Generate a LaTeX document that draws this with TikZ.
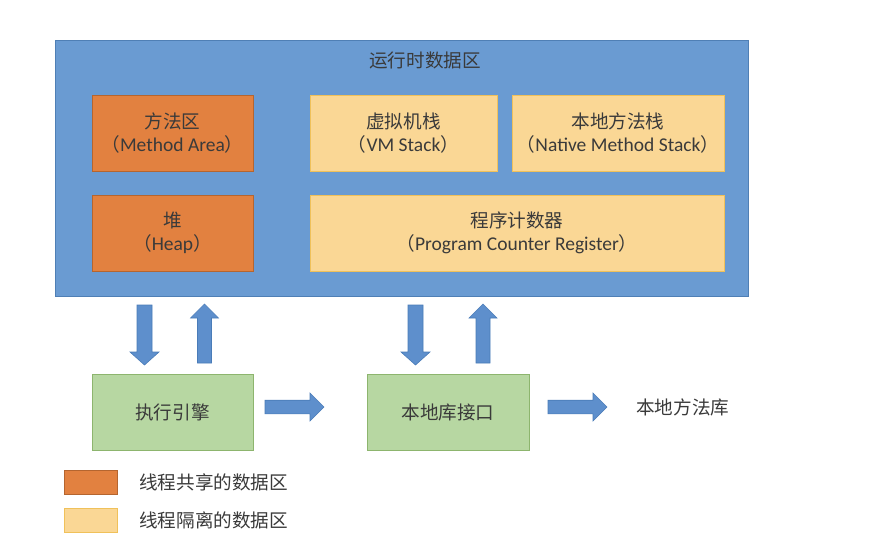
\documentclass[tikz,border=0pt]{standalone}
\usepackage{fontspec}
\setmainfont{Noto Sans CJK SC}
\newfontfamily\lat{Carlito}
\definecolor{bgblue}{HTML}{6A9BD2}
\definecolor{bgblueb}{HTML}{4F7FB5}
\definecolor{orfill}{HTML}{E28140}
\definecolor{ordraw}{HTML}{B5652F}
\definecolor{yefill}{HTML}{FAD795}
\definecolor{yedraw}{HTML}{F0C15A}
\definecolor{grfill}{HTML}{B7D7A2}
\definecolor{grdraw}{HTML}{8DB56E}
\definecolor{arfill}{HTML}{5E8FCC}
\definecolor{ardraw}{HTML}{4A7CB8}
\definecolor{txt}{HTML}{3A3A3A}
\tikzset{
  cjkfont/.style={font=\fontsize{18.6}{24}\selectfont, text=txt},
  boxbase/.style={rectangle, inner sep=0pt, align=center, cjkfont, line width=0.8pt},
  shared/.style={boxbase, fill=orfill, draw=ordraw},
  isolated/.style={boxbase, fill=yefill, draw=yedraw},
  engine/.style={boxbase, fill=grfill, draw=grdraw},
  blockarrow/.style={fill=arfill, draw=ardraw, line width=0.6pt},
  downarr/.pic={\path[blockarrow] (-7.5,0) -- (7.5,0) -- (7.5,47) -- (14.5,47) -- (0,60) -- (-14.5,47) -- (-7.5,47) -- cycle;},
  uparr/.pic={\path[blockarrow] (-7,0) -- (7,0) -- (7,-45) -- (14,-45) -- (0,-59) -- (-14,-45) -- (-7,-45) -- cycle;},
  rightarr/.pic={\path[blockarrow] (0,-6.8) -- (45,-6.8) -- (45,-14) -- (59,0) -- (45,14) -- (45,6.8) -- (0,6.8) -- cycle;},
}
\newcommand{\two}[2]{#1\\[-1pt]（{\lat\fontsize{19.5}{24}\selectfont #2}）}
\begin{document}
\begin{tikzpicture}[x=1pt, y=-1pt]
\path[use as bounding box, fill=white] (0,0) rectangle (879,558);
% runtime data area
\path[fill=bgblue, draw=bgblueb, line width=0.8pt] (55,40) rectangle (748,296);
\node[cjkfont] (title) at (425,60) {运行时数据区};
\node[shared, minimum width=161pt, minimum height=76pt] (method) at (172.5,133) {\two{方法区}{Method Area}};
\node[shared, minimum width=161pt, minimum height=76pt] (heap) at (172.5,233) {\two{堆}{Heap}};
\node[isolated, minimum width=187pt, minimum height=76pt] (vm) at (403.5,133) {\two{虚拟机栈}{VM Stack}};
\node[isolated, minimum width=212pt, minimum height=76pt] (native) at (618,133) {\two{本地方法栈}{Native Method Stack}};
\node[isolated, minimum width=414pt, minimum height=76pt] (pc) at (517,233) {\two{程序计数器}{Program Counter Register}};
% lower boxes
\node[engine, minimum width=161pt, minimum height=76pt] (exec) at (172.5,412) {执行引擎};
\node[engine, minimum width=162pt, minimum height=76pt] (jni) at (448,412) {本地库接口};
\node[cjkfont, anchor=west, inner sep=0pt] (lib) at (636,407) {本地方法库};
% block arrows
\pic at (144.5,305) {downarr};
\pic at (204.5,363) {uparr};
\pic at (415.5,305) {downarr};
\pic at (483,363) {uparr};
\pic at (265,407) {rightarr};
\pic at (548,407) {rightarr};
% legend
\node[rectangle, fill=orfill, draw=ordraw, line width=0.6pt, minimum width=53pt, minimum height=24pt, inner sep=0pt] (leg1) at (90.5,482) {};
\node[rectangle, fill=yefill, draw=yedraw, line width=0.6pt, minimum width=53pt, minimum height=24pt, inner sep=0pt] (leg2) at (90.5,520) {};
\node[cjkfont, anchor=west, inner sep=0pt] (legt1) at (139,482) {线程共享的数据区};
\node[cjkfont, anchor=west, inner sep=0pt] (legt2) at (139,520) {线程隔离的数据区};
\end{tikzpicture}
\end{document}
